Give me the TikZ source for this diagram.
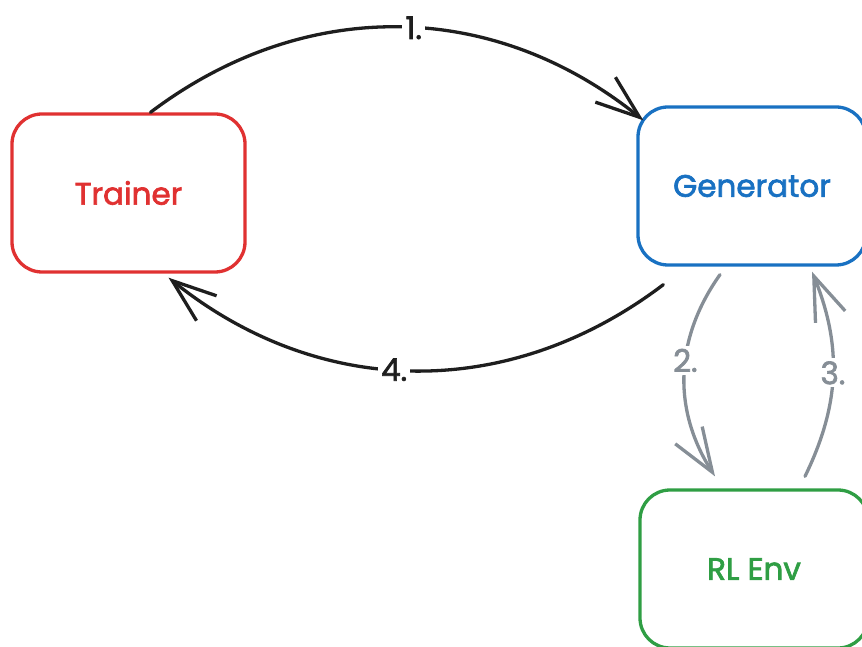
\documentclass[tikz,border=0pt]{standalone}
\usepackage{fontspec}
\setmainfont{Poppins}
\newfontfamily\handfont{Poppins}[FakeBold=2.2]
\usetikzlibrary{arrows.meta}
\definecolor{cred}{HTML}{E03131}
\definecolor{cblue}{HTML}{1971C2}
\definecolor{cgreen}{HTML}{2F9E44}
\definecolor{cgray}{HTML}{868E96}
\definecolor{cblack}{HTML}{1E1E1E}
\begin{document}
\begin{tikzpicture}[x=1pt,y=1pt,
  box/.style={draw, rounded corners=30pt, line width=3.3pt, minimum width=228pt,
    minimum height=158pt, font=\handfont\fontsize{31}{34}\selectfont},
  flow/.style={line width=3.3pt, line cap=round, -{Straight Barb[length=44pt,width=32pt]}},
  lbl/.style={fill=white, inner sep=3pt, font=\handfont\fontsize{31}{34}\selectfont}]
\useasboundingbox (0,0) rectangle (862,646);
\clip (0,0) rectangle (862,646);
\node[box, draw=cred, text=cred, minimum width=233pt] (tr) at (128.5,453) {Trainer};
\node[box, draw=cblue, text=cblue] (gen) at (752,460) {Generator};
\node[box, draw=cgreen, text=cgreen] (env) at (754,77) {RL Env};
\draw[flow, cblack] ([xshift=22pt]tr.north) to[bend left=38]
  node[lbl, pos=0.53, text=cblack] (l1) {1.} ([shift={(7,-15)}]gen.north west);
\draw[flow, cblack] ([shift={(27,-18)}]gen.south west) to[bend left=38]
  node[lbl, pos=0.54, text=cblack] (l4) {4.} ([shift={(40,-4)}]tr.south);
\draw[flow, cgray] ([shift={(-32,-8)}]gen.south) to[bend right=34]
  node[lbl, pos=0.43, text=cgray] (l2) {2.} ([shift={(-39,12)}]env.north);
\draw[flow, cgray] ([shift={(51,12)}]env.north) to[bend right=24]
  node[lbl, pos=0.51, text=cgray] (l3) {3.} ([shift={(60,-5)}]gen.south);
\end{tikzpicture}
\end{document}
